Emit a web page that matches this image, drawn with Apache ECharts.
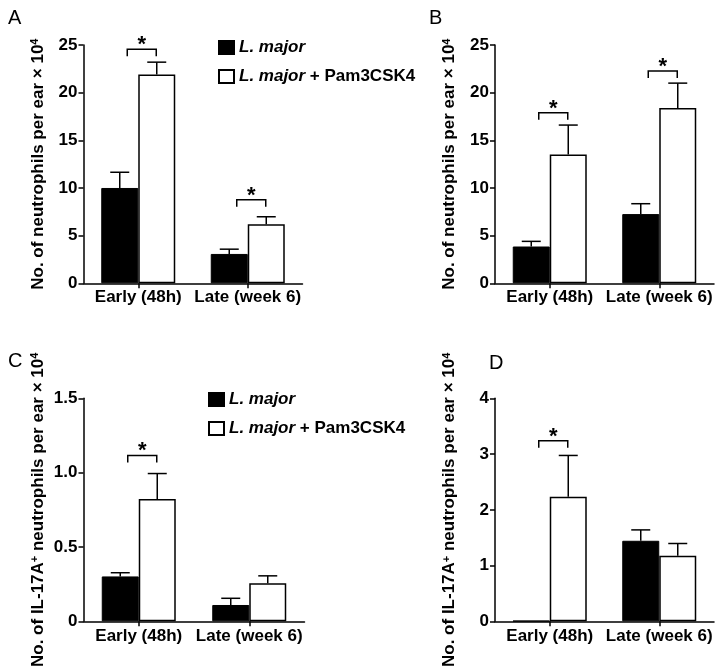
<!DOCTYPE html>
<html>
<head>
<meta charset="utf-8">
<script src="https://cdn.jsdelivr.net/npm/echarts@6/dist/echarts.min.js"></script>
<style>
html,body{margin:0;padding:0;background:#fff;}
#c{width:726px;height:669px;}
</style>
</head>
<body>
<div id="c"></div>
<script>
// ---- data ----
const categories = ['Early (48h)', 'Late (week 6)'];
const seriesNames = ['L. major', 'L. major + Pam3CSK4'];
const panelLetters = ['A', 'B', 'C', 'D'];

// Panel A: neutrophils per ear (x10^4)
const aMajor = [10.0, 3.08];
const aMajorErr = [1.65, 0.5];
const aPam = [21.9, 6.2];
const aPamErr = [1.3, 0.78];
const aStars = [[0, 24.56], [1, 8.77]];

// Panel B
const bMajor = [3.86, 7.26];
const bMajorErr = [0.54, 1.09];
const bPam = [13.5, 18.4];
const bPamErr = [3.1, 2.6];
const bStars = [[0, 17.9], [1, 22.27]];

// Panel C: IL-17A+ neutrophils per ear (x10^4)
const cMajor = [0.302, 0.11];
const cMajorErr = [0.025, 0.045];
const cPam = [0.823, 0.256];
const cPamErr = [0.171, 0.05];
const cStars = [[0, 1.116]];

// Panel D
const dMajor = [0.01, 1.445];
const dMajorErr = [0, 0.195];
const dPam = [2.235, 1.175];
const dPamErr = [0.74, 0.221];
const dStars = [[0, 3.24]];

// y axis settings
const yMax = [25, 25, 1.5, 4];
const yInterval = [5, 5, 0.5, 1];

// ---- chart ----
const FONT = 'Liberation Sans, Arial, Helvetica, sans-serif';
const BW = 37;
const panels = [
  {major: aMajor, majorErr: aMajorErr, pam: aPam, pamErr: aPamErr, stars: aStars, il: false},
  {major: bMajor, majorErr: bMajorErr, pam: bPam, pamErr: bPamErr, stars: bStars, il: false},
  {major: cMajor, majorErr: cMajorErr, pam: cPam, pamErr: cPamErr, stars: cStars, il: true},
  {major: dMajor, majorErr: dMajorErr, pam: dPam, pamErr: dPamErr, stars: dStars, il: true}
];
const grids = [
  {left: 83.5, top: 45, width: 219, height: 238.3},
  {left: 495, top: 45, width: 219, height: 238.3},
  {left: 83.5, top: 398.3, width: 221, height: 241.7},
  {left: 495, top: 398.3, width: 219, height: 241.7}
];
const letterPos = [[3, 3], [424, 3], [3, 346], [484, 348]];

const axisLineStyle = {color: '#000', width: 1.5};
const labelStyle = {color: '#000', fontSize: 17, fontWeight: 'bold', fontFamily: FONT};

const xAxes = [], yAxes = [], series = [], titles = [];
panels.forEach((p, i) => {
  titles.push({text: panelLetters[i], left: letterPos[i][0], top: letterPos[i][1],
    textStyle: {fontSize: 20, fontWeight: 'normal', color: '#000', fontFamily: FONT}});
  xAxes.push({
    type: 'category', gridIndex: i, data: categories,
    axisLine: {lineStyle: axisLineStyle},
    axisTick: {show: true, alignWithLabel: true, length: 5, lineStyle: axisLineStyle},
    axisLabel: Object.assign({margin: 6, interval: 0, hideOverlap: false}, labelStyle)
  });
  const nm = p.il
    ? '{t|No. of IL-17A}{s|+}{t| neutrophils per ear × 10}{s|4}'
    : '{t|No. of neutrophils per ear × 10}{s|4}';
  yAxes.push({
    type: 'value', gridIndex: i, min: 0, max: yMax[i], interval: yInterval[i],
    splitLine: {show: false},
    axisLine: {show: true, lineStyle: axisLineStyle},
    axisTick: {show: true, length: 5, lineStyle: axisLineStyle},
    axisLabel: Object.assign({margin: 6,
      formatter: v => (yInterval[i] < 1 ? (v === 0 ? '0' : v.toFixed(1)) : String(v))}, labelStyle),
    name: nm, nameLocation: 'middle', nameRotate: 90, nameGap: 37,
    nameTextStyle: {rich: {
      t: {fontSize: 17, fontWeight: 'bold', color: '#000', fontFamily: FONT},
      s: {fontSize: 11, fontWeight: 'bold', color: '#000', fontFamily: FONT, verticalAlign: 'top', lineHeight: 17}
    }}
  });
  series.push({
    name: seriesNames[0], type: 'bar', xAxisIndex: i, yAxisIndex: i,
    data: p.major, barWidth: BW, barGap: '0%',
    itemStyle: {color: '#000', borderColor: '#000', borderWidth: 1}
  });
  series.push({
    name: seriesNames[1], type: 'bar', xAxisIndex: i, yAxisIndex: i,
    data: p.pam, barWidth: BW, barGap: '0%',
    itemStyle: {color: '#fff', borderColor: '#000', borderWidth: 1.5}
  });
  const errData = [];
  p.major.forEach((v, k) => errData.push([k, v, p.majorErr[k], -1]));
  p.pam.forEach((v, k) => errData.push([k, v, p.pamErr[k], 1]));
  series.push({
    type: 'custom', xAxisIndex: i, yAxisIndex: i, data: errData, z: 5,
    renderItem: (params, api) => {
      const err = api.value(2);
      if (!err) return null;
      const side = api.value(3);
      const b = api.coord([api.value(0), api.value(1)]);
      const t = api.coord([api.value(0), api.value(1) + err]);
      const x = b[0] + side * BW / 2;
      const st = {stroke: '#000', lineWidth: 1.5};
      return {type: 'group', children: [
        {type: 'line', shape: {x1: x, y1: b[1], x2: x, y2: t[1]}, style: st},
        {type: 'line', shape: {x1: x - 9.5, y1: t[1], x2: x + 9.5, y2: t[1]}, style: st}
      ]};
    }
  });
  series.push({
    type: 'custom', xAxisIndex: i, yAxisIndex: i, data: p.stars, z: 5,
    renderItem: (params, api) => {
      const c = api.coord([api.value(0), api.value(1)]);
      const x1 = c[0] - 11, x2 = c[0] + 18, y = c[1];
      return {type: 'group', children: [
        {type: 'polyline', shape: {points: [[x1, y + 7], [x1, y], [x2, y], [x2, y + 7]]},
          style: {stroke: '#000', lineWidth: 1.5, fill: null}},
        {type: 'text', x: (x1 + x2) / 2, y: y + 7,
          style: {text: '*', fontSize: 22, fontWeight: 'bold', fontFamily: FONT, fill: '#000',
            align: 'center', verticalAlign: 'bottom'}}
      ]};
    }
  });
});

const legendText = {
  fontSize: 17, fontWeight: 'bold', color: '#000', fontFamily: FONT,
  rich: {
    i: {fontSize: 17, fontWeight: 'bold', fontStyle: 'italic', color: '#000', fontFamily: FONT},
    n: {fontSize: 17, fontWeight: 'bold', color: '#000', fontFamily: FONT}
  }
};
const legendFmt = n => n === seriesNames[0] ? '{i|L. major}' : '{i|L. major}{n| + Pam3CSK4}';
const legends = [[213, 34], [203, 386]].map(pos => ({
  data: seriesNames, orient: 'vertical', left: pos[0], top: pos[1],
  icon: 'rect', itemWidth: 15, itemHeight: 13, itemGap: 12,
  selectedMode: false, formatter: legendFmt, textStyle: legendText
}));

const chart = echarts.init(document.getElementById('c'), null, {renderer: 'canvas'});
chart.setOption({
  animation: false,
  backgroundColor: '#fff',
  title: titles,
  legend: legends,
  grid: grids,
  xAxis: xAxes,
  yAxis: yAxes,
  series: series
});
</script>
</body>
</html>
